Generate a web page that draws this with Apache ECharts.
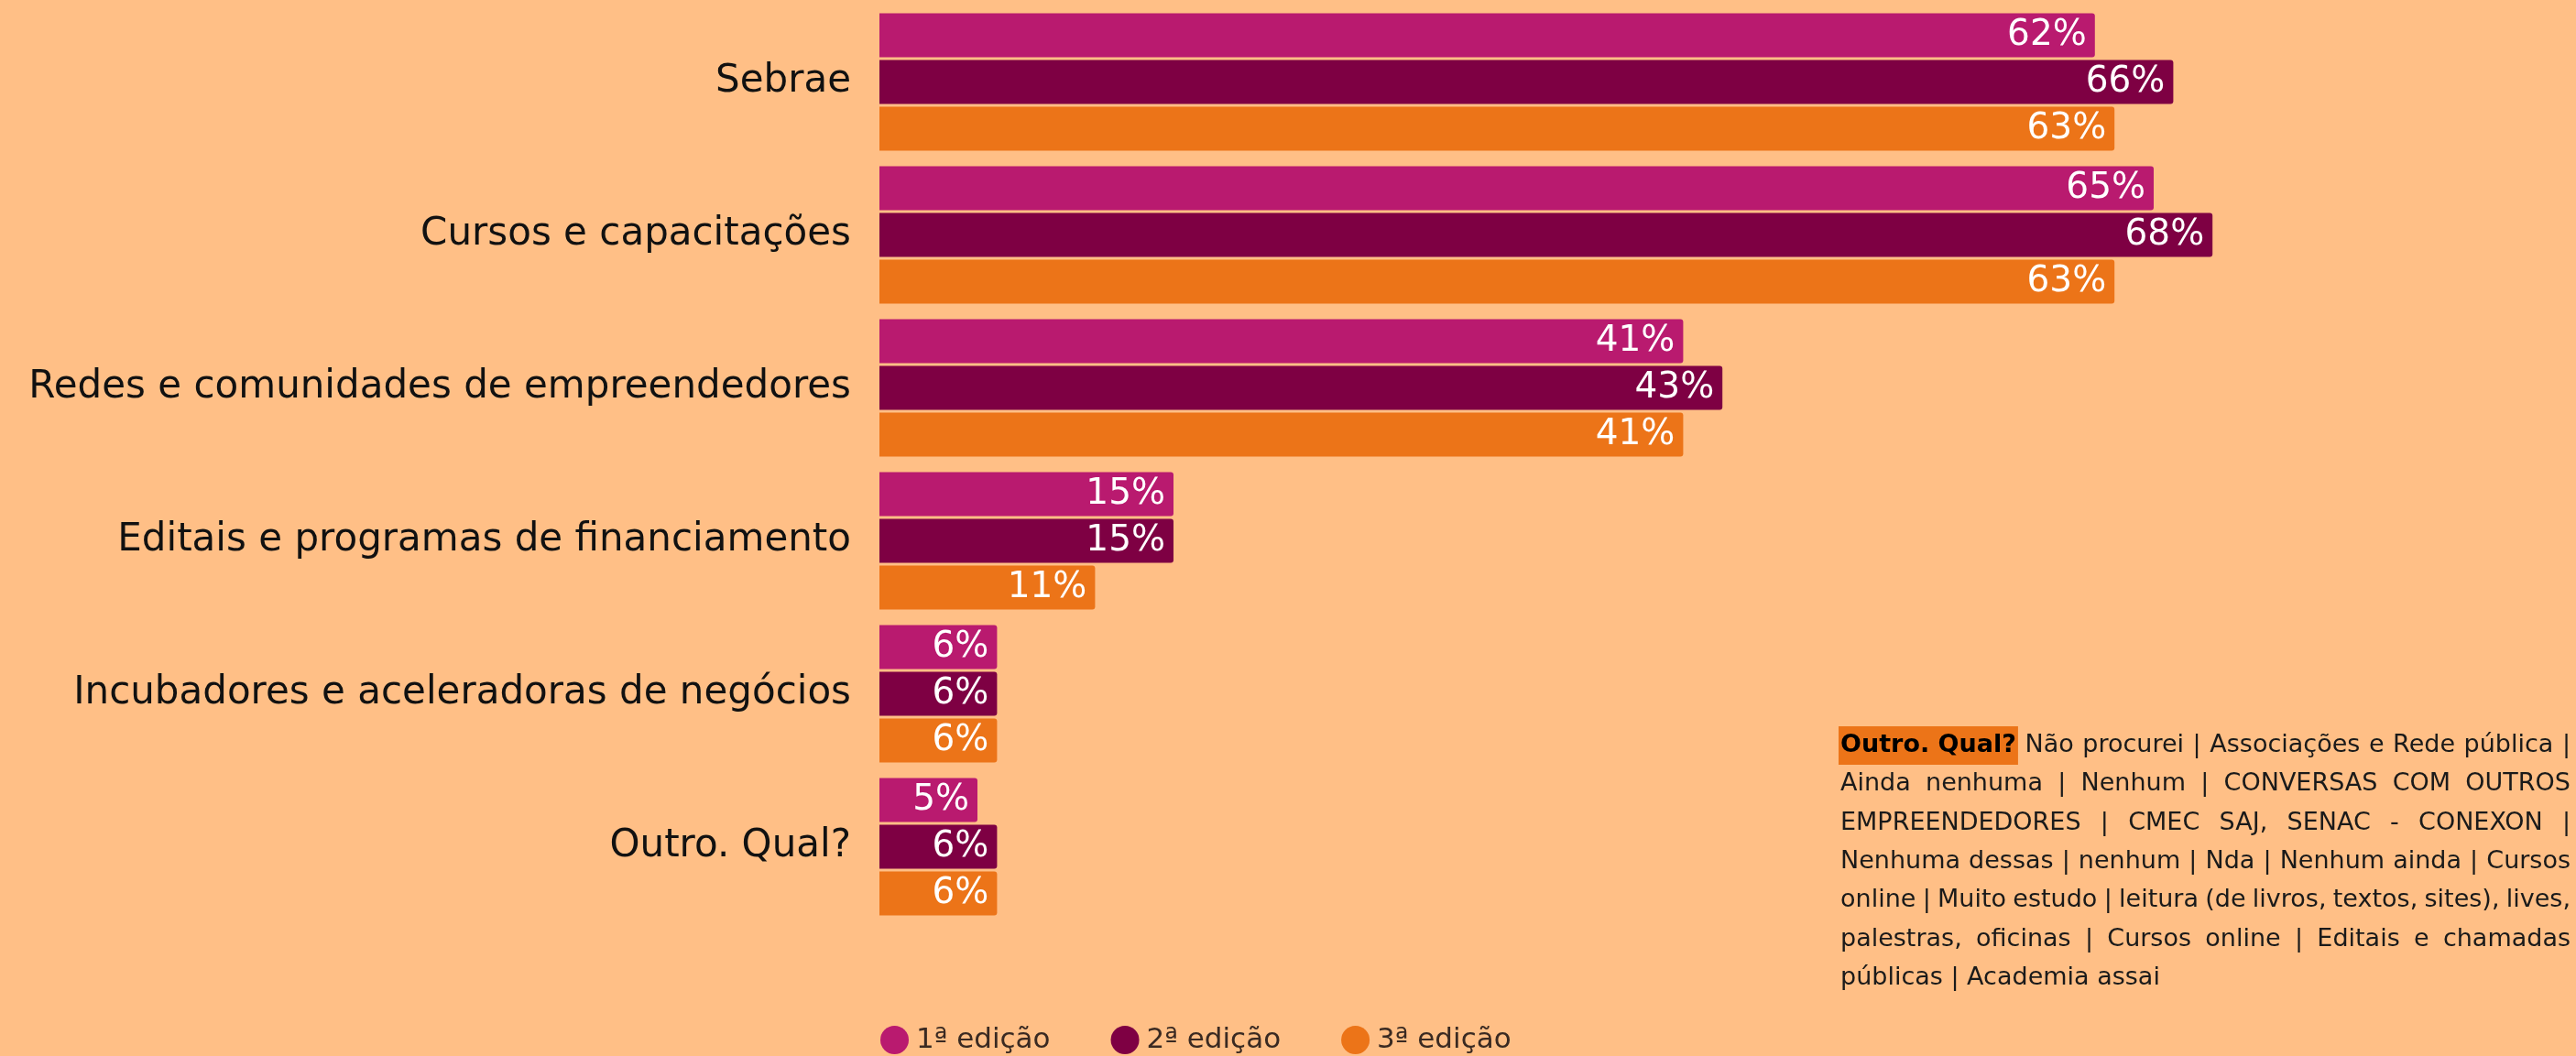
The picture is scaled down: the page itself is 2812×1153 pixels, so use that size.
<!DOCTYPE html>
<html><head><meta charset="utf-8">
<script src="https://cdn.jsdelivr.net/npm/echarts@6/dist/echarts.min.js"></script>
<style>html,body{margin:0;padding:0;background:#FFBF86;}#c{width:2812px;height:1153px;}</style>
</head><body><div id="c"></div>
<script>
const categories = ['Sebrae','Cursos e capacitações','Redes e comunidades de empreendedores','Editais e programas de financiamento','Incubadores e aceleradoras de negócios','Outro. Qual?'];
const seriesNames = ['1ª edição','2ª edição','3ª edição'];
const ed1 = [62,65,41,15,6,5];
const ed2 = [66,68,43,15,6,6];
const ed3 = [63,63,41,11,6,6];
const colors = ['#B91A6F','#7E0043','#EC7418'];
const noteHead = 'Outro. Qual?';
const noteLines = [
  'Não procurei | Associações e Rede pública |',
  'Ainda nenhuma | Nenhum | CONVERSAS COM OUTROS',
  'EMPREENDEDORES | CMEC SAJ, SENAC - CONEXON |',
  'Nenhuma dessas | nenhum | Nda | Nenhum ainda | Cursos',
  'online | Muito estudo | leitura (de livros, textos, sites), lives,',
  'palestras, oficinas | Cursos online | Editais e chamadas',
  'públicas | Academia assai'
];

const FONT = 'DejaVu Sans';
const chart = echarts.init(document.getElementById('c'));

// justified note block
const ctx = document.createElement('canvas').getContext('2d');
function mw(t, f){ ctx.font = f; return ctx.measureText(t).width; }
const boxL = 2009, boxR = 2806, boxW = boxR - boxL, lineY0 = 814, lineH = 42.3;
const graphics = [];
noteLines.forEach((line, i) => {
  let fs = 27;
  const toks = line.split(' ');
  const items = toks.map(t => ({text: t, bold: false}));
  if (i === 0) items.unshift({text: noteHead, bold: true});
  const last = i === noteLines.length - 1;
  const fontOf = (it, s) => (it.bold ? 'bold ' : '') + s + 'px ' + FONT;
  let widths = items.map(it => mw(it.text, fontOf(it, fs)));
  let sum = widths.reduce((a,b)=>a+b,0);
  let sp = mw(' ', fs + 'px ' + FONT);
  const n = items.length - 1;
  if (sum + n * sp * 0.8 > boxW) {
    fs = fs * boxW / (sum + n * sp * 0.8);
    widths = items.map(it => mw(it.text, fontOf(it, fs)));
    sum = widths.reduce((a,b)=>a+b,0);
    sp = mw(' ', fs + 'px ' + FONT);
  }
  const gap = last ? sp : (boxW - sum) / n;
  let x = boxL;
  const y = lineY0 + i * lineH;
  items.forEach((it, k) => {
    const st = {text: it.text, font: fontOf(it, fs), fill: '#1a1a1a', textAlign: 'left', textVerticalAlign: 'middle', align: 'left', verticalAlign: 'middle'};
    if (it.bold) { st.backgroundColor = '#EC7418'; st.padding = [12, 2, 3, 2]; st.fill = '#000'; }
    graphics.push({type: 'text', x: it.bold ? x - 2 : x, y: y, style: st, z: 10});
    x += widths[k] + gap;
  });
});

const mkSeries = (name, data, color) => ({
  name, type: 'bar', data,
  barWidth: 48, barGap: '6.25%',
  itemStyle: {color, borderRadius: [0, 3, 3, 0]},
  label: {show: true, position: 'insideRight', distance: 9, color: '#fff', fontSize: 39, fontFamily: FONT, formatter: '{c}%'}
});

chart.setOption({
  backgroundColor: '#FFBF86',
  animation: false,
  grid: {left: 960, right: 140, top: 6, bottom: 145, containLabel: false},
  xAxis: {type: 'value', min: 0, max: 80, show: false},
  yAxis: {type: 'category', data: categories, inverse: true,
    axisLine: {show: false}, axisTick: {show: false},
    axisLabel: {fontSize: 42, fontFamily: FONT, color: '#111', margin: 31}},
  legend: {data: seriesNames, icon: 'circle', itemWidth: 31, itemHeight: 31, itemGap: 66,
    left: 961, top: 1120, padding: 0,
    textStyle: {fontSize: 31, fontFamily: FONT, color: '#3a2a22', padding: [0, 0, 0, 3]}},
  series: [mkSeries(seriesNames[0], ed1, colors[0]), mkSeries(seriesNames[1], ed2, colors[1]), mkSeries(seriesNames[2], ed3, colors[2])],
  graphic: graphics
});
</script></body></html>
